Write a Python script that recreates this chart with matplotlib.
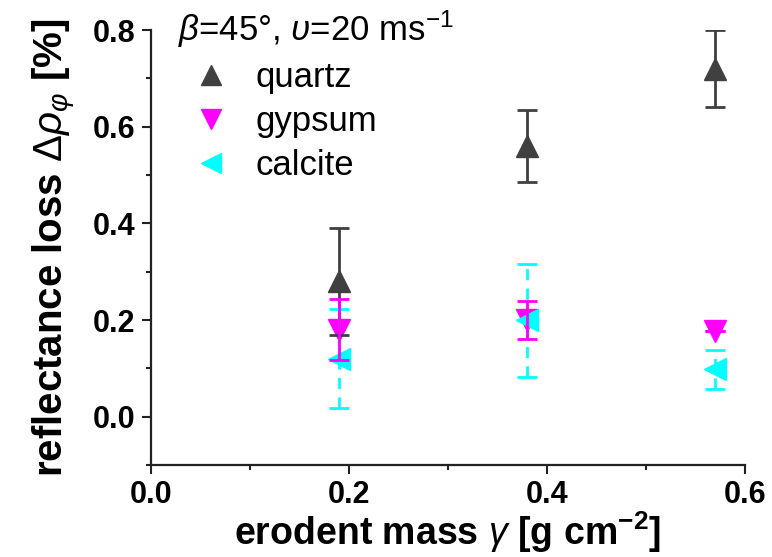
import matplotlib
matplotlib.use("Agg")
import matplotlib.pyplot as plt

plt.rcParams['font.family'] = ['Liberation Sans', 'DejaVu Sans']
plt.rcParams['mathtext.fontset'] = 'custom'
plt.rcParams['mathtext.rm'] = 'Liberation Sans'
plt.rcParams['mathtext.it'] = 'Liberation Sans:italic'
plt.rcParams['mathtext.bf'] = 'Liberation Sans:bold'

mass = [0.19, 0.38, 0.57]
quartz = [0.28, 0.56, 0.72]
quartz_err = [0.11, 0.075, 0.08]
gypsum = [0.18, 0.20, 0.177]
gypsum_err = [0.063, 0.04, 0.0]
calcite = [0.12, 0.20, 0.098]
calcite_err = [0.102, 0.117, 0.04]

xticks = [0.0, 0.2, 0.4, 0.6]
xticklabels = ['0.0', '0.2', '0.4', '0.6']
yticks = [0.0, 0.2, 0.4, 0.6, 0.8]
yticklabels = ['0.0', '0.2', '0.4', '0.6', '0.8']

fig = plt.figure(figsize=(7.72, 5.57), dpi=100)
ax = fig.add_axes([0.1956, 0.165, 0.7694, 0.781])

# markers (error bars drawn on top, as in the original software)
ax.plot(mass, quartz, linestyle='none', marker='^', markersize=16,
        color='#404040', label='quartz', zorder=2.0)
ax.plot(mass, gypsum, linestyle='none', marker='v', markersize=16,
        color='#ff00ff', label='gypsum', zorder=2.1)
ax.plot(mass, calcite, linestyle='none', marker='<', markersize=16,
        color='#00ffff', label='calcite', zorder=2.2)

ax.errorbar(mass, quartz, yerr=quartz_err, fmt='none', ecolor='#404040',
            elinewidth=2, capsize=7, capthick=2, zorder=3.0)
ec = ax.errorbar(mass, calcite, yerr=calcite_err, fmt='none', ecolor='#00ffff',
                 elinewidth=2, capsize=7, capthick=2, zorder=3.1)
ec[2][0].set_linestyle((0, (4, 3)))
ax.errorbar(mass, gypsum, yerr=gypsum_err, fmt='none', ecolor='#ff00ff',
            elinewidth=2, capsize=7, capthick=2, zorder=3.2)

ax.set_xlim(0, 0.6)
ax.set_ylim(-0.1, 0.8)
ax.set_xticks(xticks)
ax.set_xticklabels(xticklabels, fontweight='bold')
ax.set_xticks([0.1, 0.3, 0.5], minor=True)
ax.set_yticks(yticks)
ax.set_yticklabels(yticklabels, fontweight='bold')
ax.set_yticks([-0.1, 0.1, 0.3, 0.5, 0.7], minor=True)
ax.spines['top'].set_visible(False)
ax.spines['right'].set_visible(False)
for s in ['left', 'bottom']:
    ax.spines[s].set_linewidth(1.6)
    ax.spines[s].set_color('#222222')
ax.tick_params(which='major', direction='out', length=6.5, width=1.5,
               labelsize=22, color='#222222')
ax.tick_params(which='minor', direction='out', length=3.5, width=1.5,
               color='#222222')
ax.tick_params(axis='x', which='major', pad=4)
ax.tick_params(axis='y', which='major', pad=5)

ax.set_xlabel(r'erodent mass $\it{\gamma}$ [g cm$^{\mathbf{-2}}$]',
              fontsize=27, fontweight='bold', labelpad=0)
ax.set_ylabel(r'reflectance loss $\Delta\it{\rho}_{\varphi}$ [%]',
              fontsize=29, fontweight='bold', labelpad=10)

leg = ax.legend(loc='upper left', bbox_to_anchor=(0.045, 1.05), frameon=False,
                title=r'$\it{\beta}$=45°, $\it{\upsilon}$=20 ms$^{-1}$',
                fontsize=25, title_fontsize=25, handletextpad=0.35,
                labelspacing=0.32, alignment='left', markerscale=0.9,
                borderpad=0, borderaxespad=0, handlelength=1.9)

fig.savefig('out.png', dpi=100)
